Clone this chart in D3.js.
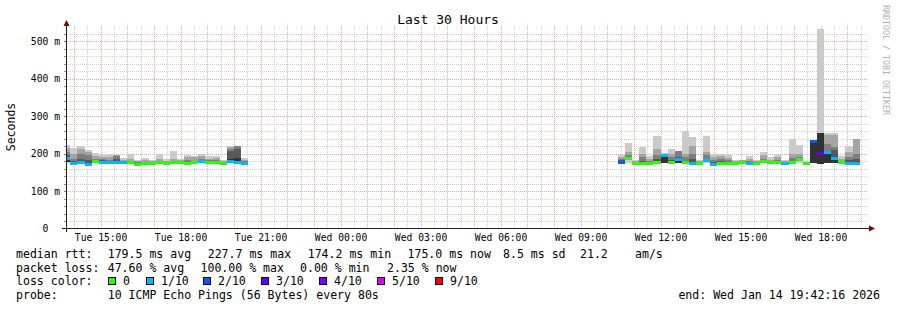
<!DOCTYPE html>
<html>
<head>
<meta charset="utf-8">
<script src="https://cdn.jsdelivr.net/npm/d3@7"></script>
<style>
body { margin: 0; background: #fff; }
svg { display: block; }
text { font-family: "DejaVu Sans Mono", monospace; fill: #000; }
</style>
</head>
<body>
<div id="chart"></div>
<script>
// time window
var startTime = new Date(2026, 0, 13, 13, 42, 16);
var endTime = new Date(2026, 0, 14, 19, 42, 16);
var stepMin = 16;
var segStarts = [new Date(2026, 0, 13, 13, 36), new Date(2026, 0, 14, 10, 24)];
var segCounts = [26, 34];

// values in ms, one per 16 min step (seg 1 then seg 2)
var median = [186,174,176,172,178,176,176,176,176,175,172,173,174,175,173,175,176,174,176,178,176,176,174,180,176,174,
  176,187,174,174,174,175,195,175,185,175,173,174,181,172,174,174,174,177,173,174,178,175,175,173,175,184,174,231,200,202,186,175,174,174];
var lossIdx = [1,1,1,1,0,1,1,1,1,0,0,0,0,0,0,0,0,0,0,1,0,0,0,1,1,1,
  2,0,0,0,0,0,1,0,1,0,1,0,1,1,0,0,0,0,1,0,0,0,0,1,0,0,0,2,3,1,1,0,1,1];
var minPing = [176,172,172,170,175,174,174,174,174,173,170,171,172,173,171,173,174,172,174,175,174,174,172,176,174,172,
  173,175,172,172,172,173,176,173,176,173,172,172,175,171,172,172,172,174,171,172,174,173,173,171,173,174,172,174,173,174,174,173,172,172];
var innerBase = [178,174,176,172,178,176,176,176,176,175,172,173,174,175,173,175,176,174,176,178,176,176,174,176,175,174,
  176,187,174,174,174,175,176,175,176,175,173,174,181,172,174,174,174,177,173,174,178,175,175,173,175,184,174,174,173,174,176,175,174,174];
var smoke1 = [222,214,219,209,201,195,199,196,187,198,183,189,183,198,185,208,185,197,193,200,192,193,182,219,220,187,
  196,229,182,217,192,248,201,213,208,259,243,182,248,199,199,196,182,184,194,182,205,190,196,182,239,223,180,235,532,255,255,194,221,238];
var smoke2 = [215,200,212,205,192,190,190,196,183,185,181,182,179,185,180,185,182,190,190,192,185,188,180,217,219,183,
  190,205,180,200,185,213,198,200,208,200,219,180,205,190,192,188,180,182,185,180,195,184,190,180,200,200,178,235,254,250,250,185,205,238];
var smoke3 = [205,185,200,195,185,186,183,194,180,180,178,178,177,180,178,180,180,183,180,185,182,182,178,212,219,180,
  186,195,178,190,180,195,197,190,206,190,200,178,195,182,186,182,178,180,180,178,186,180,184,178,188,190,177,235,254,226,217,180,190,200];
var smoke4 = [195,180,186,184,180,183,180,185,178,178,176,176,176,178,177,178,178,178,178,180,178,178,176,208,212,178,
  182,190,176,180,177,185,196,182,190,180,185,176,186,178,180,178,176,178,176,176,182,178,180,176,180,186,176,235,254,205,210,178,182,185];
var smoke5 = [190,177,180,176,179,180,178,180,177,176,173,174,175,176,174,176,177,176,177,179,177,177,175,186,188,176,
  178,188,175,176,175,177,196,177,186,176,176,175,182,174,176,176,175,178,174,175,180,176,176,174,176,185,175,235,254,200,190,176,176,177];

var lossLabels = ["0","1/10","2/10","3/10","4/10","5/10","9/10"];
var lossColors = ["#26ff00","#00b8ff","#0059ff","#5e00ff","#7e00ff","#dd00ff","#ff0000"];
var smokeColors = ["#cacaca","#a4a4a4","#7e7e7e","#585858","#323232"];
var yTicks = [0,100,200,300,400,500];

var legendLines = [
  [[16,"median rtt:"],[107.7,"179.5 ms avg"],[207.7,"227.7 ms max"],[307.7,"174.2 ms min"],[407.5,"175.0 ms now"],[503,"8.5 ms sd"],[580,"21.2"],[635,"am/s"]],
  [[16,"packet loss:"],[107.7,"47.60 % avg"],[200.5,"100.00 % max"],[300,"0.00 % min"],[387,"2.35 % now"]],
  [[16,"loss color:"]],
  [[16,"probe:"],[107.7,"10 ICMP Echo Pings (56 Bytes) every 80s"]]
];
var endLabel = "end: Wed Jan 14 19:42:16 2026";

var W = 897, H = 310;
var svg = d3.select("#chart").append("svg").attr("width", W).attr("height", H);

var x = d3.scaleTime().domain([startTime, endTime]).range([66, 866]);
var y = d3.scaleLinear().domain([0, 540]).range([228.5, 26]);

// grid
var grid = svg.append("g").attr("shape-rendering", "crispEdges");
var minorT = d3.timeMinute.every(30).range(startTime, endTime).filter(t => t.getMinutes() != 0);
var majorT = d3.timeHour.range(startTime, endTime);
var yMinor = d3.range(20, 540, 20).filter(v => v % 100 != 0);
var yMajor = d3.range(100, 540, 100);
var minorCol = "#d0d0d0", majorCol = "#efa6a6";

grid.selectAll(".vmin").data(minorT).enter().append("line")
  .attr("x1", d => Math.round(x(d)) + 0.5).attr("x2", d => Math.round(x(d)) + 0.5)
  .attr("y1", 26).attr("y2", 228)
  .attr("stroke", minorCol).attr("stroke-dasharray", "1,1");
grid.selectAll(".hmin").data(yMinor).enter().append("line")
  .attr("x1", 66).attr("x2", 868)
  .attr("y1", d => Math.round(y(d)) + 0.5).attr("y2", d => Math.round(y(d)) + 0.5)
  .attr("stroke", minorCol).attr("stroke-dasharray", "1,1");
grid.selectAll(".vmaj").data(majorT).enter().append("line")
  .attr("x1", d => Math.round(x(d)) + 0.5).attr("x2", d => Math.round(x(d)) + 0.5)
  .attr("y1", 26).attr("y2", 228)
  .attr("stroke", majorCol).attr("stroke-dasharray", "1,1");
grid.selectAll(".hmaj").data(yMajor).enter().append("line")
  .attr("x1", 66).attr("x2", 868)
  .attr("y1", d => Math.round(y(d)) + 0.5).attr("y2", d => Math.round(y(d)) + 0.5)
  .attr("stroke", majorCol).attr("stroke-dasharray", "1,1");

// bars
var bars = [];
segStarts.forEach((s, si) => {
  for (var j = 0; j < segCounts[si]; j++) {
    var t0 = d3.timeMinute.offset(s, j * stepMin);
    bars.push({ i: bars.length, t0: t0, t1: d3.timeMinute.offset(t0, stepMin) });
  }
});

svg.append("clipPath").attr("id", "plotclip").append("rect")
  .attr("x", 67).attr("y", 26).attr("width", 800).attr("height", 202);

var plot = svg.append("g").attr("clip-path", "url(#plotclip)").attr("shape-rendering", "crispEdges");
var smoke = [smoke1, smoke2, smoke3, smoke4, smoke5];

smoke.forEach((arr, k) => {
  plot.append("g").selectAll("rect").data(bars).enter().append("rect")
    .attr("x", d => Math.round(x(d.t0)))
    .attr("width", d => Math.round(x(d.t1)) - Math.round(x(d.t0)))
    .attr("y", d => Math.round(y(arr[d.i])))
    .attr("height", d => {
      var lo = k == 0 ? minPing[d.i] : innerBase[d.i];
      return Math.max(0, Math.round(y(lo)) - Math.round(y(arr[d.i])));
    })
    .attr("fill", smokeColors[k]);
});

plot.append("g").selectAll("rect").data(bars).enter().append("rect")
  .attr("x", d => Math.round(x(d.t0)))
  .attr("width", d => Math.round(x(d.t1)) - Math.round(x(d.t0)))
  .attr("y", d => Math.round(y(median[d.i]) - 1.5))
  .attr("height", 3)
  .attr("fill", d => lossColors[lossIdx[d.i]]);

// axes
var xAxis = d3.axisBottom(x)
  .tickValues(d3.timeHour.every(3).range(startTime, endTime).filter(t => t.getHours() % 3 == 0))
  .tickFormat(d3.timeFormat("%a %H:%M"))
  .tickSize(0).tickPadding(6);
var gx = svg.append("g").attr("transform", "translate(0,228.5)").call(xAxis);
gx.select(".domain").remove();
gx.selectAll("text").style("font-family", "DejaVu Sans Mono").style("font-size", "9.7px").attr("fill", "#000");

var yAxis = d3.axisLeft(y).tickValues(yTicks)
  .tickFormat(v => v == 0 ? "0\u00a0\u00a0" : v + "\u00a0m")
  .tickSize(0).tickPadding(6);
var gy = svg.append("g").attr("transform", "translate(66,0)").call(yAxis);
gy.select(".domain").remove();
gy.selectAll("text").style("font-family", "DejaVu Sans Mono").style("font-size", "9.7px").attr("fill", "#000");

// small ticks on the y axis
var ticks = svg.append("g").attr("shape-rendering", "crispEdges");
ticks.selectAll(".yt").data(yMinor.concat(yMajor)).enter().append("line")
  .attr("x1", 64).attr("x2", 66)
  .attr("y1", d => Math.round(y(d)) + 0.5).attr("y2", d => Math.round(y(d)) + 0.5)
  .attr("stroke", d => d % 100 == 0 ? "#de5050" : "#8f8f8f");

var axisG = svg.append("g").attr("shape-rendering", "crispEdges");
axisG.append("line").attr("x1", 62).attr("x2", 870).attr("y1", 228.5).attr("y2", 228.5).attr("stroke", "#1f1f1f");
axisG.append("line").attr("x1", 66.5).attr("x2", 66.5).attr("y1", 232).attr("y2", 22).attr("stroke", "#1f1f1f");
svg.append("path").attr("d", "M63.5,26L69.5,26L66.5,20Z").attr("fill", "#7f0000");
svg.append("path").attr("d", "M869,225.5L869,231.5L875,228.5Z").attr("fill", "#7f0000");

// title and labels
svg.append("text").attr("x", 448).attr("y", 24).attr("text-anchor", "middle")
  .style("font-size", "13px").text("Last 30 Hours");
svg.append("text").attr("transform", "translate(15,127) rotate(-90)").attr("text-anchor", "middle")
  .style("font-size", "11.5px").text("Seconds");
svg.append("text").attr("transform", "translate(883,5) rotate(90)")
  .style("font-size", "8.3px").style("fill", "#b0b0b0").text("RRDTOOL / TOBI OETIKER");

// legend
var lineY = [258, 271.5, 285, 298.5];
legendLines.forEach((items, li) => {
  svg.append("g").selectAll("text").data(items).enter().append("text")
    .attr("x", d => d[0]).attr("y", lineY[li])
    .style("font-size", "11.55px").text(d => d[1]);
});
var boxX = [108, 146, 203, 261, 319, 377, 435];
var lg = svg.append("g").selectAll("g").data(lossLabels).enter().append("g");
lg.append("rect").attr("x", (d, i) => boxX[i] + 0.5).attr("y", 277.5).attr("width", 7).attr("height", 7)
  .attr("fill", (d, i) => lossColors[i]).attr("stroke", "#000").attr("shape-rendering", "crispEdges");
lg.append("text").attr("x", (d, i) => boxX[i] + 15).attr("y", lineY[2])
  .style("font-size", "11.55px").text(d => d);
svg.append("text").attr("x", 880).attr("y", lineY[3]).attr("text-anchor", "end")
  .style("font-size", "11.55px").text(endLabel);
</script>
</body>
</html>
